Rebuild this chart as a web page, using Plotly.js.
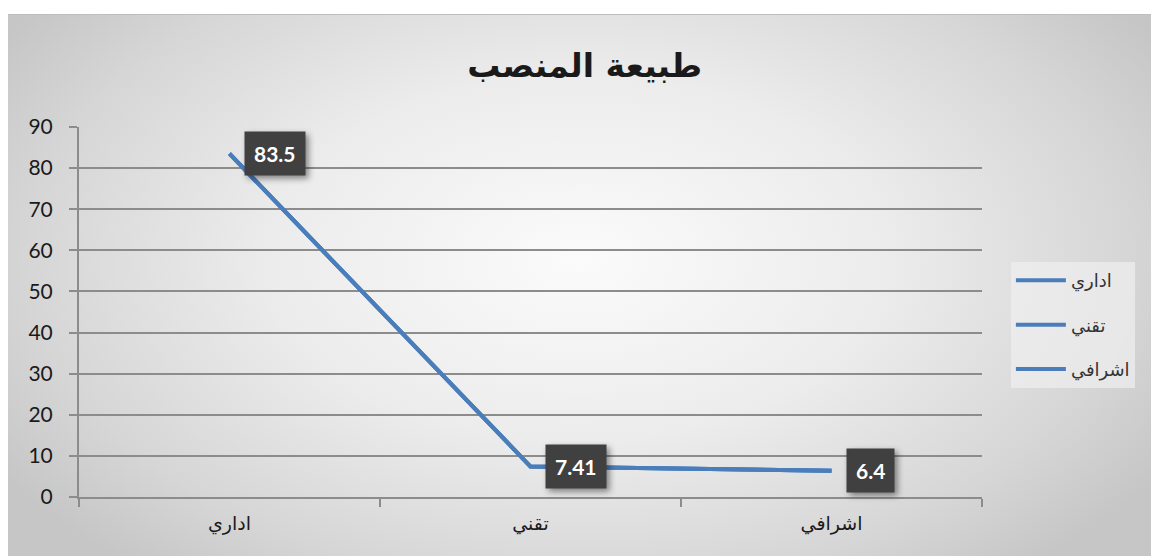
<!DOCTYPE html>
<html>
<head>
<meta charset="utf-8">
<script src="https://cdn.plot.ly/plotly-3.0.1.min.js"></script>
<style>
  html, body { margin: 0; padding: 0; background: #ffffff; }
  #wrap { position: relative; width: 1151px; height: 556px; overflow: hidden; background: #ffffff; }
  #bg { position: absolute; left: 8px; top: 14px; right: 0; bottom: 0;
        background: radial-gradient(ellipse 60% 75% at 50% 45%, #fbfbfb 0%, #ececec 45%, #d6d6d6 80%, #c6c6c6 100%);
        border-top: 1px solid #bdbdbd; }
  #chart { position: absolute; left: 0; top: 0; width: 1151px; height: 556px; }
</style>
</head>
<body>
<div id="wrap">
  <div id="bg"></div>
  <div id="chart"></div>
</div>
<script>
const chartTitle = 'طبيعة المنصب';
const categories = ['اداري', 'تقني', 'اشرافي'];
const values = [83.5, 7.41, 6.4];
const valueLabels = ['83.5', '7.41', '6.4'];
const legendNames = ['اداري', 'تقني', 'اشرافي'];
const yTicks = [0, 10, 20, 30, 40, 50, 60, 70, 80, 90];

const lineColor = '#4a7ebb';
const arabicFont = 'DejaVu Sans, sans-serif';
const numFont = 'Lato, Open Sans, sans-serif';

// Excel shows three identical legend entries for the one line; draw the same series under each name
const traces = legendNames.map((nm, i) => ({
  type: 'scatter', mode: 'lines',
  x: categories, y: values,
  name: nm, legendgroup: 'g' + i,
  line: { color: lineColor, width: 4 },
  hoverinfo: 'skip'
}));

const annotations = categories.map((c, i) => ({
  x: c, y: values[i], xref: 'x', yref: 'y',
  text: '<b>' + valueLabels[i] + '</b>', showarrow: false,
  xanchor: 'left', yanchor: 'middle', xshift: 14, yshift: 0,
  bgcolor: '#404040', borderpad: 9,
  font: { family: numFont, size: 21, color: '#ffffff' }
}));

const layout = {
  width: 1151, height: 556,
  paper_bgcolor: 'rgba(0,0,0,0)',
  plot_bgcolor: 'rgba(0,0,0,0)',
  margin: { l: 79, r: 169, t: 127, b: 59, pad: 0 },
  title: {
    text: '<b>' + chartTitle + '</b>',
    font: { family: arabicFont, size: 33, color: '#1a1a1a' },
    x: 0.508, xref: 'container', xanchor: 'center',
    y: 1 - 65 / 556, yref: 'container', yanchor: 'middle'
  },
  xaxis: {
    type: 'category', range: [-0.5, 2.5],
    tickson: 'boundaries', ticks: 'outside', ticklen: 8, tickwidth: 2, tickcolor: '#8c8c8c',
    showline: true, linecolor: '#8c8c8c', linewidth: 2,
    showgrid: false, zeroline: false,
    tickfont: { family: arabicFont, size: 19, color: '#1a1a1a' },
    ticklabelstandoff: 8
  },
  yaxis: {
    range: [0, 90], tickvals: yTicks, ticktext: yTicks.map(String),
    ticks: 'outside', ticklen: 8, tickwidth: 2, tickcolor: '#8c8c8c',
    showline: true, linecolor: '#8c8c8c', linewidth: 2,
    showgrid: true, gridcolor: '#8c8c8c', gridwidth: 2,
    zeroline: false,
    tickfont: { family: numFont, size: 21, color: '#1a1a1a' },
    ticklabelstandoff: 12
  },
  showlegend: true,
  legend: {
    x: 1.032, y: 0.635, xanchor: 'left', yanchor: 'top',
    bgcolor: 'rgba(240,240,240,0.7)', borderwidth: 0,
    font: { family: arabicFont, size: 18, color: '#333333' },
    tracegroupgap: 18, itemwidth: 50
  },
  annotations: annotations
};

Plotly.newPlot('chart', traces, layout, { displayModeBar: false, staticPlot: true }).then(() => {
  document.querySelectorAll('.annotation rect.bg').forEach(r => {
    r.style.filter = 'drop-shadow(3px 3px 3px rgba(0,0,0,0.45))';
  });
});
</script>
</body>
</html>
